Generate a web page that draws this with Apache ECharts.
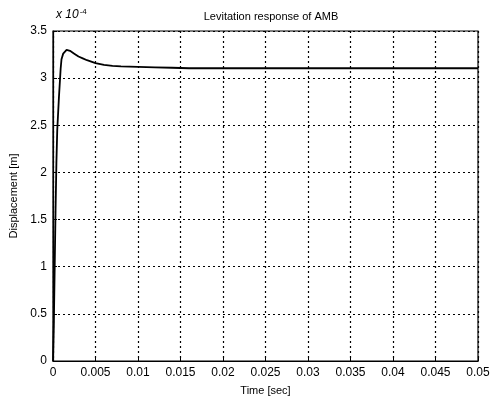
<!DOCTYPE html>
<html>
<head>
<meta charset="utf-8">
<script src="https://cdn.jsdelivr.net/npm/echarts@6/dist/echarts.min.js"></script>
<style>
  html, body { margin: 0; padding: 0; background: #fff; }
  #main { width: 499px; height: 401px; }
</style>
</head>
<body>
<div id="main"></div>
<script>
// 时间 (sec)
const timeData = [0, 0.0001, 0.0002, 0.0003, 0.0004, 0.0005, 0.0007, 0.0009, 0.001, 0.0012, 0.0016, 0.002,
  0.0025, 0.003, 0.0035, 0.004, 0.005, 0.006, 0.007, 0.008, 0.01, 0.012, 0.014, 0.016, 0.02,
  0.025, 0.03, 0.035, 0.04, 0.045, 0.05]
// 位移 (x 10^-4 m)
const dispData = [0, 0.4, 1.0, 1.6, 2.1, 2.45, 2.8, 3.1, 3.2, 3.26, 3.3, 3.29,
  3.26, 3.23, 3.21, 3.19, 3.16, 3.14, 3.13, 3.125, 3.12, 3.115, 3.11, 3.105, 3.105,
  3.105, 3.105, 3.105, 3.105, 3.105, 3.105]
// 刻度
const xTicks = ['0', '0.005', '0.01', '0.015', '0.02', '0.025', '0.03', '0.035', '0.04', '0.045', '0.05']
const yTicks = ['0', '0.5', '1', '1.5', '2', '2.5', '3', '3.5']

const font = 'Liberation Sans'
let seriesData = []
for (let i = 0; i < timeData.length; i++) {
  seriesData.push([timeData[i], dispData[i]])
}

let myChart = echarts.init(document.getElementById('main'))
myChart.setOption({
  backgroundColor: '#fff',
  animation: false,
  title: {
    text: 'Levitation response of AMB',
    left: 266,
    textAlign: 'center',
    top: 6,
    textStyle: { fontFamily: font, fontSize: 11, fontWeight: 'normal', color: '#000' }
  },
  grid: {
    left: 53, top: 31, right: 21, bottom: 35,
    show: true, borderColor: '#000', borderWidth: 1.2
  },
  graphic: [
    {
      type: 'text', left: 56, top: 8,
      style: {
        text: '{a|x 10}{b|-4}',
        rich: {
          a: { fontFamily: font, fontSize: 12, fontStyle: 'italic', fill: '#000' },
          b: { fontFamily: font, fontSize: 8, fill: '#000', verticalAlign: 'top', padding: [0, 0, 6, 1] }
        }
      }
    }
  ],
  xAxis: {
    type: 'value',
    min: 0, max: 0.05, interval: 0.005,
    name: 'Time [sec]',
    nameLocation: 'middle',
    nameGap: 24,
    nameTextStyle: { fontFamily: font, fontSize: 11, color: '#000' },
    axisLine: { onZero: false, lineStyle: { color: '#000', width: 1.2 } },
    axisTick: { inside: true, length: 4, lineStyle: { color: '#000' } },
    axisLabel: {
      fontFamily: font, fontSize: 12, color: '#000', margin: 6,
      formatter: function (v) { return xTicks[Math.round(v / 0.005)] }
    },
    splitLine: { show: true, lineStyle: { color: '#000', type: [2, 3], width: 1.2 } }
  },
  yAxis: {
    type: 'value',
    min: 0, max: 3.5, interval: 0.5,
    name: 'Displacement [m]',
    nameLocation: 'middle',
    nameGap: 33,
    nameTextStyle: { fontFamily: font, fontSize: 11, color: '#000' },
    axisLine: { show: true, lineStyle: { color: '#000', width: 1.2 } },
    axisTick: { inside: true, length: 4, lineStyle: { color: '#000' } },
    axisLabel: {
      fontFamily: font, fontSize: 12, color: '#000', margin: 6,
      formatter: function (v) { return yTicks[Math.round(v / 0.5)] }
    },
    splitLine: { show: true, lineStyle: { color: '#000', type: [2, 3], width: 1.2 } }
  },
  series: [
    {
      type: 'line',
      data: seriesData,
      showSymbol: false,
      lineStyle: { color: '#000', width: 1.8 }
    }
  ]
})
</script>
</body>
</html>
